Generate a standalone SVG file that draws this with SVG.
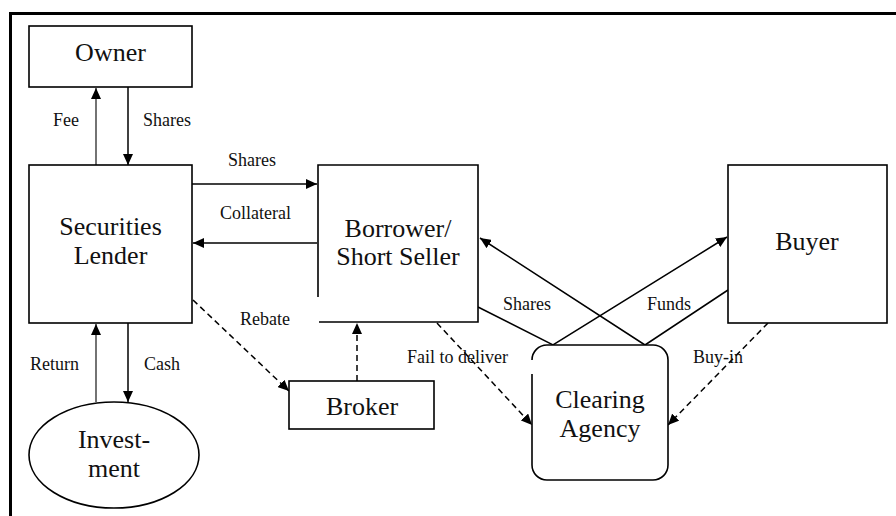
<svg xmlns="http://www.w3.org/2000/svg" width="896" height="516" viewBox="0 0 896 516">
<style>
.node{fill:#fff;stroke:#000;stroke-width:1.6}
.nt{font-family:"Liberation Serif","Times New Roman",serif;font-size:26px;fill:#111;text-anchor:middle}
.lbl{font-family:"Liberation Serif","Times New Roman",serif;font-size:18px;fill:#111}
.c{fill:none;stroke:#000;stroke-width:1.5}
.thin{stroke-width:1.1}
.d{stroke-dasharray:6 4}
</style>
<defs>
<marker id="ah" markerUnits="userSpaceOnUse" markerWidth="12" markerHeight="10" refX="11" refY="5" orient="auto">
<path d="M0,0 L11,5 L0,10 z" fill="#000"/>
</marker>
</defs>
<rect x="0" y="0" width="896" height="516" fill="#fff"/>
<rect x="9" y="12" width="887" height="3" fill="#000"/>
<rect x="9" y="12" width="3" height="504" fill="#000"/>

<g id="connectors">
<line class="c thin" x1="96" y1="165" x2="96" y2="88" marker-end="url(#ah)"/>
<line class="c" x1="128" y1="87" x2="128" y2="165" marker-end="url(#ah)"/>
<line class="c" x1="192" y1="184" x2="317" y2="184" marker-end="url(#ah)"/>
<line class="c" x1="317" y1="243" x2="193" y2="243" marker-end="url(#ah)"/>
<line class="c thin" x1="96" y1="402" x2="96" y2="324" marker-end="url(#ah)"/>
<line class="c" x1="128" y1="323" x2="128" y2="402" marker-end="url(#ah)"/>
<line class="c d" x1="193" y1="300" x2="289" y2="391" marker-end="url(#ah)"/>
<line class="c d" x1="357" y1="381" x2="357" y2="323" marker-end="url(#ah)"/>
<line class="c d" x1="437" y1="323" x2="532" y2="425" marker-end="url(#ah)"/>
<line class="c d" x1="768" y1="323" x2="668" y2="425" marker-end="url(#ah)"/>
<polyline class="c" points="478,307 553,345 727,237" marker-end="url(#ah)"/>
<polyline class="c" points="728,290 645,345 480,238" marker-end="url(#ah)"/>
</g>

<g id="labels">
<text class="lbl" x="53" y="126">Fee</text>
<text class="lbl" x="143" y="126">Shares</text>
<text class="lbl" x="228" y="166">Shares</text>
<text class="lbl" x="220" y="219">Collateral</text>
<text class="lbl" x="240" y="325">Rebate</text>
<text class="lbl" x="30" y="370">Return</text>
<text class="lbl" x="144" y="370">Cash</text>
<text class="lbl" x="407" y="363">Fail to deliver</text>
<text class="lbl" x="693" y="363">Buy-in</text>
<text class="lbl" x="503" y="310">Shares</text>
<text class="lbl" x="647" y="310">Funds</text>
</g>

<g id="owner">
<rect class="node" x="29" y="26" width="163" height="61"/>
<text class="nt" x="110.5" y="61">Owner</text>
</g>
<g id="securities-lender">
<rect class="node" x="29" y="165" width="163" height="158"/>
<text class="nt" x="110.5" y="235">Securities</text>
<text class="nt" x="110.5" y="264">Lender</text>
</g>
<g id="borrower">
<path class="node" fill="none" d="M318,297 V165 H478 V322 H319"/>
<text class="nt" x="398" y="237">Borrower/</text>
<text class="nt" x="398" y="265">Short Seller</text>
</g>
<g id="buyer">
<rect class="node" x="728" y="165" width="159" height="158"/>
<text class="nt" x="807" y="250">Buyer</text>
</g>
<g id="broker">
<rect class="node" x="289" y="381" width="145" height="48"/>
<text class="nt" x="362" y="415">Broker</text>
</g>
<g id="investment">
<ellipse class="node" cx="114" cy="455" rx="85" ry="53"/>
<text class="nt" x="114" y="448">Invest-</text>
<text class="nt" x="114" y="477">ment</text>
</g>
<g id="clearing-agency">
<path class="node" d="M532,374 V465 A15,15 0 0 0 547,480 H653 A15,15 0 0 0 668,465 V360 A15,15 0 0 0 653,345 H547 A15,15 0 0 0 532,360"/>
<text class="nt" x="600" y="408">Clearing</text>
<text class="nt" x="600" y="437">Agency</text>
</g>
</svg>
